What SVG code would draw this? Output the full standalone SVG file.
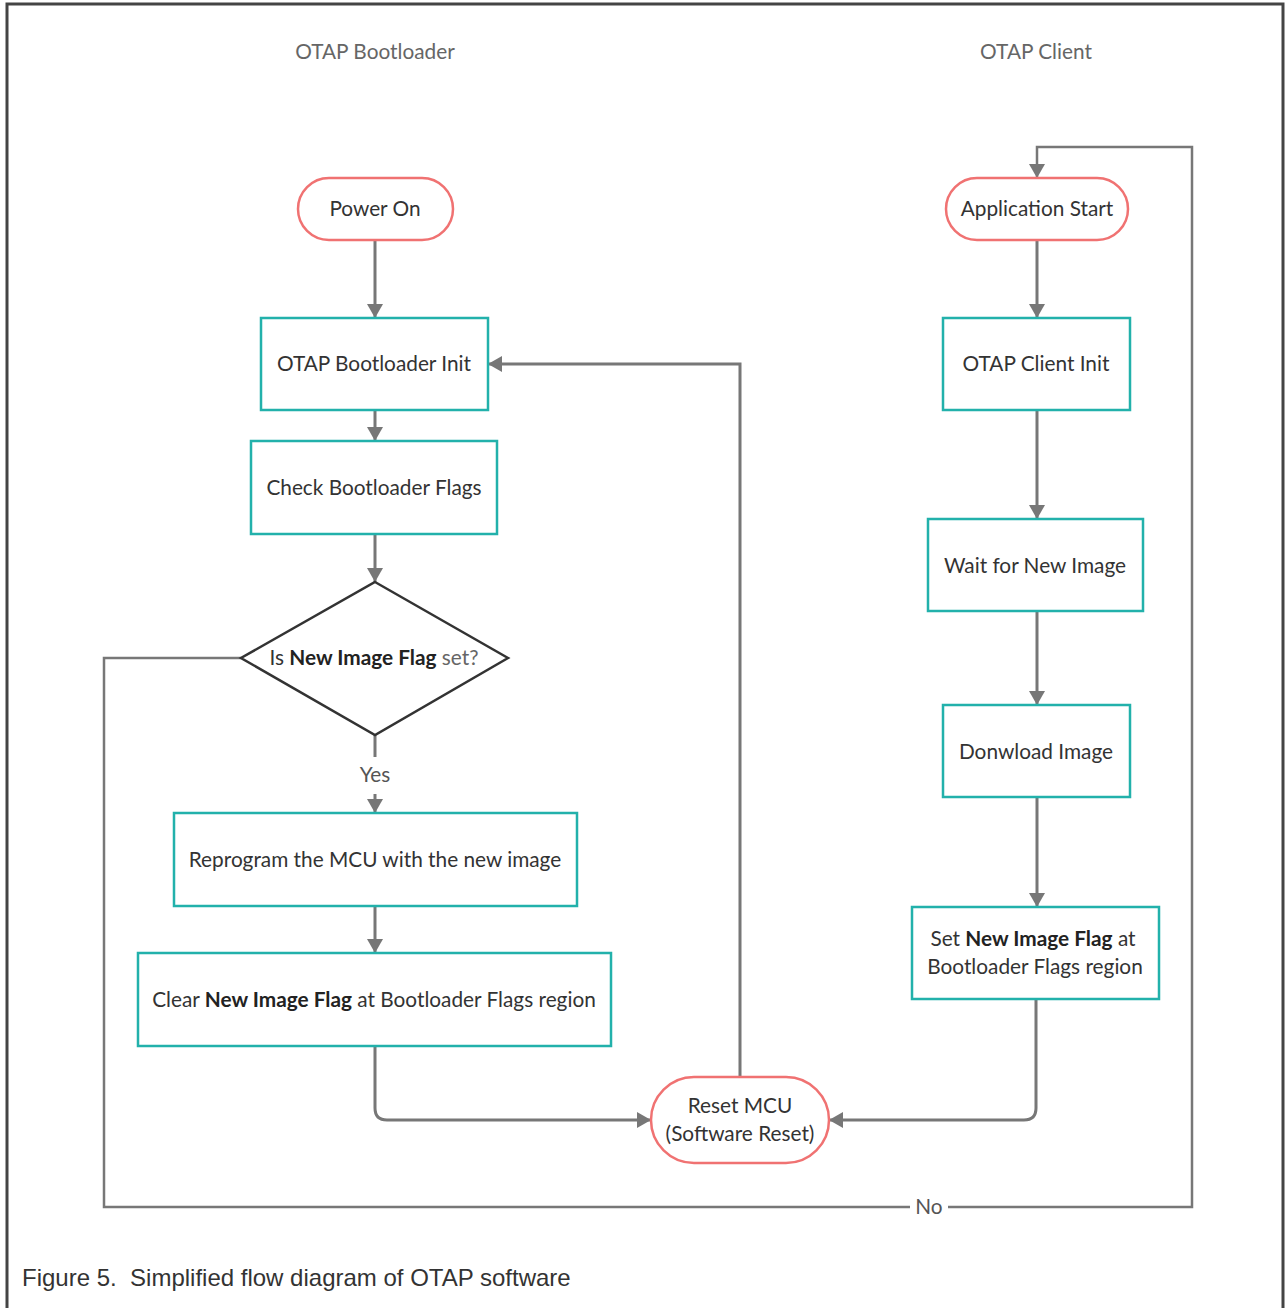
<svg xmlns="http://www.w3.org/2000/svg" width="1285" height="1308" viewBox="0 0 1285 1308">
<defs>
<style>
.frame{fill:none;stroke:#444;stroke-width:3}
.term{fill:#fff;stroke:#f07272;stroke-width:2.5}
.proc{fill:#fff;stroke:#22b1ab;stroke-width:2.5}
.dec{fill:#fff;stroke:#333;stroke-width:2.5}
.conn{fill:none;stroke:#777;stroke-width:3}
.loop{fill:none;stroke:#777;stroke-width:2.5}
text{font-family:Lato,"Open Sans","Liberation Sans",sans-serif;font-size:20.8px;fill:#333;text-anchor:middle}
.hdr{fill:#666}
.lbl{fill:#555}
.b{font-weight:bold;fill:#222}
.g{fill:#666}
.cap{font-family:"Liberation Sans",Arial,sans-serif;font-size:24px;fill:#333;text-anchor:start;white-space:pre}
</style>
<marker id="ah" viewBox="0 0 14 16" refX="14" refY="8" markerWidth="14" markerHeight="16" markerUnits="userSpaceOnUse" orient="auto">
<path d="M0,0 L14,8 L0,16 Z" fill="#777"/>
</marker>
</defs>
<rect width="1285" height="1308" fill="#fff"/>
<path class="frame" d="M7,1308 V4 H1283 V1308"/>
<text class="hdr" x="375" y="59">OTAP Bootloader</text>
<text class="hdr" x="1036" y="59">OTAP Client</text>

<g id="connectors">
<path class="conn" d="M375,240 V318" marker-end="url(#ah)"/>
<path class="conn" d="M375,410 V441" marker-end="url(#ah)"/>
<path class="conn" d="M375,534 V582" marker-end="url(#ah)"/>
<path class="conn" d="M375,735 V757"/>
<path class="conn" d="M375,794 V813" marker-end="url(#ah)"/>
<path class="conn" d="M375,906 V953" marker-end="url(#ah)"/>
<path class="conn" d="M375,1046 V1108 Q375,1120 387,1120 H651" marker-end="url(#ah)"/>
<path class="conn" d="M1036,999 V1108 Q1036,1120 1024,1120 H829" marker-end="url(#ah)"/>
<path class="conn" d="M740,1077 V364 H488" marker-end="url(#ah)"/>
<path class="loop" d="M241,658 H104 V1207 H910"/>
<path class="loop" d="M948,1207 H1192 V147 H1037 V178" marker-end="url(#ah)"/>
<path class="conn" d="M1037,240 V318" marker-end="url(#ah)"/>
<path class="conn" d="M1037,410 V519" marker-end="url(#ah)"/>
<path class="conn" d="M1037,611 V705" marker-end="url(#ah)"/>
<path class="conn" d="M1037,797 V907" marker-end="url(#ah)"/>
<text class="lbl" x="375" y="782">Yes</text>
<text class="lbl" x="929" y="1214">No</text>
</g>

<g id="power-on">
<rect class="term" x="298" y="178" width="155" height="62" rx="31"/>
<text x="375" y="216">Power On</text>
</g>
<g id="bootloader-init">
<rect class="proc" x="261" y="318" width="227" height="92"/>
<text x="374" y="371">OTAP Bootloader Init</text>
</g>
<g id="check-flags">
<rect class="proc" x="251" y="441" width="246" height="93"/>
<text x="374" y="495">Check Bootloader Flags</text>
</g>
<g id="decision">
<path class="dec" d="M375,582 L508,658 L375,735 L241,658 Z"/>
<text x="374" y="665">Is <tspan class="b">New Image Flag</tspan> <tspan class="g">set?</tspan></text>
</g>
<g id="reprogram">
<rect class="proc" x="174" y="813" width="403" height="93"/>
<text x="375" y="867">Reprogram the MCU with the new image</text>
</g>
<g id="clear-flag">
<rect class="proc" x="138" y="953" width="473" height="93"/>
<text x="374" y="1007">Clear <tspan class="b">New Image Flag</tspan> at Bootloader Flags region</text>
</g>
<g id="reset-mcu">
<rect class="term" x="651" y="1077" width="178" height="86" rx="43"/>
<text x="740" y="1113">Reset MCU</text>
<text x="740" y="1141">(Software Reset)</text>
</g>
<g id="app-start">
<rect class="term" x="946" y="178" width="182" height="62" rx="31"/>
<text x="1037" y="216">Application Start</text>
</g>
<g id="client-init">
<rect class="proc" x="943" y="318" width="187" height="92"/>
<text x="1036" y="371">OTAP Client Init</text>
</g>
<g id="wait-image">
<rect class="proc" x="928" y="519" width="215" height="92"/>
<text x="1035" y="573">Wait for New Image</text>
</g>
<g id="download-image">
<rect class="proc" x="943" y="705" width="187" height="92"/>
<text x="1036" y="759">Donwload Image</text>
</g>
<g id="set-flag">
<rect class="proc" x="912" y="907" width="247" height="92"/>
<text x="1033" y="946">Set <tspan class="b">New Image Flag</tspan> at</text>
<text x="1035" y="974">Bootloader Flags region</text>
</g>

<text class="cap" x="22" y="1286" xml:space="preserve">Figure 5.  Simplified flow diagram of OTAP software</text>
</svg>
